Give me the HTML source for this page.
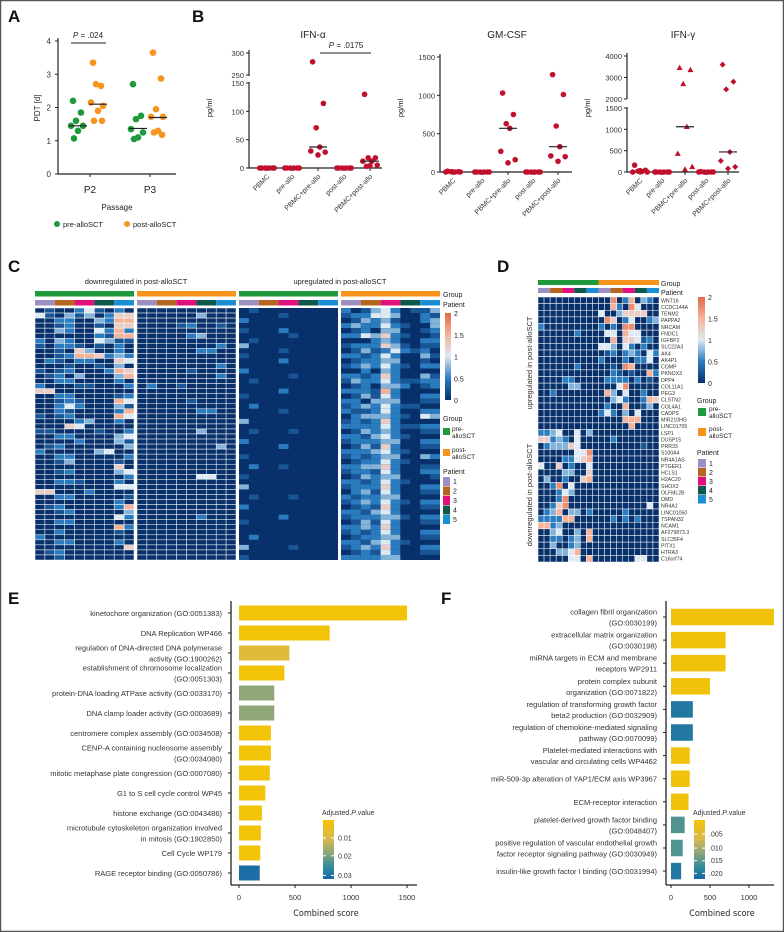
<!DOCTYPE html>
<html><head><meta charset="utf-8"><style>
body{margin:0;background:#fff}
svg{display:block;font-family:"Liberation Sans",sans-serif}
</style></head><body>
<svg id="fig" width="784" height="932" viewBox="0 0 784 932" xmlns="http://www.w3.org/2000/svg">
<rect x="0.5" y="0.5" width="783" height="931" fill="#fff" stroke="#555" stroke-width="1.5"/>
<g id="g"></g>
</svg>
<script>
// ---------- DATA ----------
// Panel A
const aCats=["P2","P3"];
const aPre=[[2.2,1.85,1.6,1.45,1.45,1.3,1.07],[2.7,1.75,1.65,1.35,1.25,1.1,1.05]];
const aPost=[[3.35,2.65,2.7,2.15,2.05,1.9,1.6,1.6],[3.65,2.87,1.95,1.72,1.72,1.3,1.25,1.18]];
const aPreMed=[1.45,1.37];
const aPostMed=[2.1,1.7];
const aTicks=[0,1,2,3,4];
// Panel B
const bCats=["PBMC","pre-allo","PBMC+pre-allo","post-allo","PBMC+post-allo"];
const ifnA=[[0,0,0,0,0,0],[0,0,0,0,0,0],[280,114,71,37,30,28,23],[0,0,0,0,0,0],[130,18,18,12,12,5,4,3]];
const ifnAMed=[0,0,37,0,12];
const gmcsf=[[10,5,5,0,0,0,0],[0,0,0,0,0,0],[1030,750,630,570,270,160,120],[0,0,0,0,0,0],[1270,1010,600,330,210,200,140]];
const gmMed=[0,0,570,0,330];
const ifnG=[[160,40,20,10,0,0,30],[0,0,0,0,0,0],[3450,3350,2700,1060,430,120,60],[10,0,0,0,0,0],[3600,2800,2450,470,260,120,80]];
const ifnGMed=[0,0,1060,0,470];
// Panel C heatmap (digit d -> value d*0.25)
const cRows=[
"0100241020000000000001000000002013420113","4103130255000000300000001000001224430021",
"0022003266000000000020000000000132310023","0012001055000012001000000000002322421003",
"0032004262000000000010002000000120330012","0000002166000002300000000100002243521001",
"2032004311000000000001000000000002320022","1022101020000000002030000000001222531011",
"0010530020000000220000001000000131242120","0012665232000000000010000000002212420031",
"0210220054000000000000002000000122330010","0001001030000000002000000000001232421022",
"1012000265000001000020000000000020320000","0120300036000000002000000100002212520031",
"0022000020000000000001000000001322421122","2000110002020010000000000000000120332012",
"5500000000000000000000002000002221620000","0022000012000000000010000000000131420022",
"0012100064000001000000000000002203330011","0024200031000000000002000000001232421100",
"0021000026000000220000001000002112420022","1012000064000000000000000000000233321043",
"0000230020000000000030000000001212520000","0005400000000000000000000000002222421122",
"1100001002000000300001000100000132320011","0022000034000000000000000000002213421000",
"0000200031000000000020000000001222330022","0120000003000000003000002000000131520011",
"2000003400000000000000000000002223421000","0022000002000000000010000000001212330032",
"0013000010000000000000000000000122421000","0000000050000000000002001000002233520011",
"0012000034000000000000000000001221420022","0000000002000000440010000000000132330001",
"0022100020000000000000000000002212421000","0000000044000000000030000000001222520022",
"5500020000000000000000000000000231420011","0022000001000000000001000100002122330000",
"0000000020000000000000000000001232421022","0120000026000000000020000000000121520011",
"0012000003000000000000000000002213420000","0000000042000000200000002000001222331022",
"0022000000000000000010000000000131420011","0000000062000000000000000000002232520000",
"0020000010000000000000000000001212420022","2000000000000000000002000000000122330011",
"0022000020000000000000000000002213421000","0000000005000000000030000100001232520022",
"0120000000000000000000000000000121420011","0010000000000000000010000000002222330000"];
// Panel D heatmap
const dGenes=["WNT16","CCDC144A","TENM2","PAPPA2","NRCAM","FNDC1","IGFBP2","SLC22A3","AK4","AK4P1","COMP","PKNOX3","DPP4","COL11A1","PEG3","CLSTN2","COL4A1","CADPS","MIR210HG","LINC01705","LSP1","DUSP15","PRR33","S100A4","NR4A1AS","PTGER1","HCLS1","H2AC20","SHOX2","OLFML2B","OMD","NR4A1","LINC01050","TSPAN32","NCAM1","AF279873.3","SLC35F4","PITX1","HTRA3","C16orf74"];
const dRows=["00000000000070260320","00000000000062074000","00000000004003555500","00000000000750240023","20000000002020770000","00000020000440644000","00000000000060554120","00000000004430420200","00000000000120232042","00000000002000202240","00000020000010760000","00000000000021010062","00002200000222202010","00000330000004700000","00200000000630400200","00000000000034200265","00000000000200600130","00000000002420304000","00000000000000666000","00000000000000060000","22340040300000000000","55232040000020000000","02333540000000000100","00000044700000000000","00002245600000000000","40050200400000000000","00003300500000000000","03002005600000000000","00270400000000000000","00024300000000000000","00027000000000000000","00257000000000000040","02360330200000200000","22226600000020202000","66230000000000000000","00340030600000000000","00220230600000000000","00300230000000000000","00033460000000000000","00000440600000004400"];
// Panel E
const eTerms=[["kinetochore organization (GO:0051383)"],["DNA Replication WP466"],["regulation of DNA-directed DNA polymerase","activity (GO:1900262)"],["establishment of chromosome localization","(GO:0051303)"],["protein-DNA loading ATPase activity (GO:0033170)"],["DNA clamp loader activity (GO:0003689)"],["centromere complex assembly (GO:0034508)"],["CENP-A containing nucleosome assembly","(GO:0034080)"],["mitotic metaphase plate congression (GO:0007080)"],["G1 to S cell cycle control WP45"],["histone exchange (GO:0043486)"],["microtubule cytoskeleton organization involved","in mitosis (GO:1902850)"],["Cell Cycle WP179"],["RAGE receptor binding (GO:0050786)"]];
const eScores=[1500,810,450,405,315,315,285,285,275,235,205,195,190,185];
const ePadj=[0.001,0.001,0.008,0.001,0.018,0.018,0.001,0.001,0.001,0.001,0.001,0.001,0.001,0.032];
const eTicks=[0,500,1000,1500];
// Panel F
const fTerms=[["collagen fibril organization","(GO:0030199)"],["extracellular matrix organization","(GO:0030198)"],["miRNA targets in ECM and membrane","receptors WP2911"],["protein complex subunit","organization (GO:0071822)"],["regulation of transforming growth factor","beta2 production (GO:0032909)"],["regulation of chemokine-mediated signaling","pathway (GO:0070099)"],["Platelet-mediated interactions with","vascular and circulating cells WP4462"],["miR-509-3p alteration of YAP1/ECM axis WP3967"],["ECM-receptor interaction"],["platelet-derived growth factor binding","(GO:0048407)"],["positive regulation of vascular endothelial growth","factor receptor signaling pathway (GO:0030949)"],["insulin-like growth factor I binding (GO:0031994)"]];
const fScores=[1320,700,700,500,280,280,240,240,225,175,150,130];
const fPadj=[0.001,0.001,0.001,0.001,0.019,0.019,0.001,0.001,0.001,0.015,0.015,0.019];
const fTicks=[0,500,1000];

// ---------- HELPERS ----------
const NS="http://www.w3.org/2000/svg";
const root=document.getElementById('g');
function mk(tag,attrs,parent,txt){const e=document.createElementNS(NS,tag);for(const k in attrs)e.setAttribute(k,attrs[k]);if(txt!==undefined)e.textContent=txt;(parent||root).appendChild(e);return e;}
function grp(name){const g=mk('g',{});


return g;}
const GREEN="#1e9a3c",ORANGE="#f7941d",RED="#c0102e";
const PCOL=["#9d8ec4","#b5651d","#e0117f","#0e5a4a","#1b8fd6"];
function hx(h){return [parseInt(h.slice(1,3),16),parseInt(h.slice(3,5),16),parseInt(h.slice(5,7),16)];}
function lerpC(stops,t){t=Math.max(0,Math.min(1,t));for(let i=0;i<stops.length-1;i++){const [a,ca]=stops[i],[b,cb]=stops[i+1];if(t<=b){const f=(t-a)/(b-a);const x=hx(ca),y=hx(cb);return `rgb(${x.map((v,j)=>Math.round(v+(y[j]-v)*f)).join(',')})`;}}return stops[stops.length-1][1];}
const heatStops=[[0,"#08306b"],[0.25,"#2a7cbf"],[0.5,"#dde9f3"],[0.75,"#f5b39a"],[1,"#e5674a"]];
function heatCol(v){return lerpC(heatStops,v/2);}
const padjStopsE=[[0,"#f5c400"],[0.33,"#d6b84e"],[0.55,"#8fa77a"],[0.8,"#2f8a9a"],[1,"#1768a8"]];

// ---------- PANEL LABELS ----------
[["A",8,22],["B",192,22],["C",8,272],["D",497,272],["E",8,604],["F",441,604]].forEach(([t,x,y])=>{
 const e=mk('text',{x:x,y:y,'font-size':17,'font-weight':'bold',fill:'#111'},root,t);
 
 
});

// ---------- PANEL A ----------
(function(){
 const g=grp('panel-a-dotplot');
 const x0=58,x1=176,y0=174,ppu=33.25;
 const y=v=>y0-v*ppu;
 const cx=[90,150];
 mk('line',{x1:x0,y1:y(4)-3,x2:x0,y2:y0,stroke:'#222','stroke-width':1.2},g);
 mk('line',{x1:x0,y1:y0,x2:x1,y2:y0,stroke:'#222','stroke-width':1.2},g);
 aTicks.forEach(t=>{mk('line',{x1:x0-3,y1:y(t),x2:x0,y2:y(t),stroke:'#222'},g);
  const e=mk('text',{x:x0-7,y:y(t)+3,'font-size':8,'text-anchor':'end',fill:'#333'},g,t);
  
  });
 aCats.forEach((c,i)=>{mk('line',{x1:cx[i],y1:y0,x2:cx[i],y2:y0+3,stroke:'#222'},g);
  const e=mk('text',{x:cx[i],y:y0+19,'font-size':10,'text-anchor':'middle',fill:'#222'},g,c);
  
  });
 const xl=mk('text',{x:117,y:210,'font-size':8,'text-anchor':'middle',fill:'#222'},g,'Passage');
 
 
 const yl=mk('text',{x:0,y:0,'font-size':8,'text-anchor':'middle',fill:'#222',transform:'translate(40,108) rotate(-90)'},g,'PDT [d]');
 
 
 const jit=[-5,3,-2,-7,5,0,-4,4];
 aCats.forEach((c,i)=>{
  [[aPre[i],GREEN,-12,aPreMed[i]],[aPost[i],ORANGE,8,aPostMed[i]]].forEach(([vals,col,off,med])=>{
   vals.forEach((v,k)=>{const d=mk('circle',{cx:cx[i]+off+jit[k%8],cy:y(v),r:3.3,fill:col},g);
    
    });
   const m=mk('line',{x1:cx[i]+off-9,x2:cx[i]+off+9,y1:y(med),y2:y(med),stroke:'#222','stroke-width':1.2},g);
   
   
  });
 });
 mk('line',{x1:71,x2:106,y1:43,y2:43,stroke:'#222'},g);
 const p=mk('text',{x:88,y:38,'font-size':8,'text-anchor':'middle',fill:'#222'},g);
 p.innerHTML='<tspan font-style="italic">P</tspan> = .024';
 
 
 // legend
 [[57,GREEN,'pre-alloSCT','legend-pre-allosct'],[127,ORANGE,'post-alloSCT','legend-post-allosct']].forEach(([x,c,t,n])=>{
  const lg=mk('g',{},g);
  
  
  mk('circle',{cx:x,cy:224,r:3,fill:c},lg);
  mk('text',{x:x+6,y:227,'font-size':7.5,fill:'#222'},lg,t);
 });
})();

// ---------- PANEL B ----------
function bPanel(name,title,data,med,opts){
 const g=grp(name);
 const {ax,ax1,yb,y,ticks,cx,breakY,titleX,shape}=opts;
 const t=mk('text',{x:titleX,y:38,'font-size':10,'text-anchor':'middle',fill:'#222'},g,title);
 
 
 if(breakY){mk('line',{x1:ax,x2:ax,y1:breakY[0],y2:breakY[1],stroke:'#222','stroke-width':1.2},g);
  mk('line',{x1:ax,x2:ax,y1:breakY[2],y2:yb,stroke:'#222','stroke-width':1.2},g);}
 else mk('line',{x1:ax,x2:ax,y1:y(ticks[ticks.length-1])-3,y2:yb,stroke:'#222','stroke-width':1.2},g);
 mk('line',{x1:ax,x2:ax1,y1:yb,y2:yb,stroke:'#222','stroke-width':1.2},g);
 ticks.forEach(tk=>{mk('line',{x1:ax-3,x2:ax,y1:y(tk),y2:y(tk),stroke:'#222'},g);
  const e=mk('text',{x:ax-5,y:y(tk)+3,'font-size':7.5,'text-anchor':'end',fill:'#333'},g,tk);
  
  });
 const yl=mk('text',{x:0,y:0,'font-size':7.5,'text-anchor':'middle',fill:'#222',transform:`translate(${ax-37},108) rotate(-90)`},g,'pg/ml');
 
 
 const jit=[-6,6,-2,2,-8,8,0,-4];
 bCats.forEach((c,i)=>{
  mk('line',{x1:cx[i],x2:cx[i],y1:yb,y2:yb+3,stroke:'#222'},g);
  const lb=mk('text',{x:0,y:0,'font-size':7,'text-anchor':'end',fill:'#333',transform:`translate(${cx[i]+3},${yb+9}) rotate(-45)`},g,c);
  
  
  data[i].forEach((v,k)=>{
   const px=cx[i]+jit[k%8]*0.9,py=y(v);let m;
   if(shape&&i===2)m=mk('path',{d:`M${px},${py-3.2}L${px+3},${py+2.2}L${px-3},${py+2.2}Z`,fill:RED},g);
   else if(shape&&i===4)m=mk('path',{d:`M${px},${py-3}L${px+3},${py}L${px},${py+3}L${px-3},${py}Z`,fill:RED},g);
   else m=mk('circle',{cx:px,cy:py,r:2.8,fill:RED},g);
   
   
  });
  if(med[i]>0){const l=mk('line',{x1:cx[i]-9,x2:cx[i]+9,y1:y(med[i]),y2:y(med[i]),stroke:'#222','stroke-width':1.2},g);
   
   }
 });
 return g;
}
const gA=bPanel('ifn-alpha-chart','IFN-α',ifnA,ifnAMed,{ax:249,ax1:382,yb:168,
 y:v=>v<=150?168-v*(85/150):75-(v-250)*(22/50),ticks:[0,50,100,150,250,300],cx:[267,292,318,344,370],breakY:[50,76,82],titleX:313});
mk('line',{x1:320,x2:371,y1:53,y2:53,stroke:'#222'},gA);
const pA=mk('text',{x:346,y:48,'font-size':8,'text-anchor':'middle',fill:'#222'},gA);
pA.innerHTML='<tspan font-style="italic">P</tspan> = .0175';


bPanel('gm-csf-chart','GM-CSF',gmcsf,gmMed,{ax:440,ax1:572,yb:172,
 y:v=>172-v*(115/1500),ticks:[0,500,1000,1500],cx:[453,482,508,533,558],titleX:507});
bPanel('ifn-gamma-chart','IFN-γ',ifnG,ifnGMed,{ax:627,ax1:739,yb:172,
 y:v=>v<=1500?172-v*(64/1500):99-(v-2000)*(43/2000),ticks:[0,500,1000,1500,2000,3000,4000],cx:[640,662,685,706,728],breakY:[53,99,107],titleX:683,shape:true});

// ---------- PANEL C ----------
(function(){
 const g=grp('panel-c-heatmap');
 const blocks=[35,137,239,341],bw=99,top=308,bot=560,nr=cRows.length,rh=(bot-top)/nr,cw=bw/10;
 [["downregulated in post-alloSCT",136],["upregulated in post-alloSCT",340]].forEach(([t,x])=>{
  const e=mk('text',{x:x,y:284,'font-size':7.5,'text-anchor':'middle',fill:'#222'},g,t);
  
  });
 blocks.forEach((bx,b)=>{
  const ga=mk('rect',{x:bx,y:291,width:bw,height:5.5,fill:b%2===0?GREEN:ORANGE},g);
  
  
  for(let p=0;p<5;p++){const pa=mk('rect',{x:bx+p*bw/5,y:300,width:bw/5,height:5.5,fill:PCOL[p]},g);
   
   }
  mk('rect',{x:bx,y:top,width:bw,height:bot-top,fill:'#08306b'},g);
  for(let r=0;r<nr;r++)for(let c=0;c<10;c++){
   const v=parseInt(cRows[r][b*10+c])*0.25;
   const cell=mk('rect',{x:bx+c*cw,y:top+r*rh,width:cw,height:rh,fill:heatCol(v),stroke:b<2?'#fff':'none','stroke-width':0.5},g);
   
   
  }
 });
 [["Group",297],["Patient",307]].forEach(([t,y])=>mk('text',{x:443,y:y,'font-size':7,fill:'#222'},g,t));
 legendBar(g,445,313,6,87,'c');
 mk('text',{x:443,y:421,'font-size':7,fill:'#222'},g,'Group');
 [[GREEN,428,'pre-','alloSCT'],[ORANGE,449,'post-','alloSCT']].forEach(([c,y,a,b2])=>{
  mk('rect',{x:443,y:y,width:7,height:7,fill:c},g);
  mk('text',{x:452,y:y+3,'font-size':6.5,fill:'#222'},g,a);
  mk('text',{x:452,y:y+10,'font-size':6.5,fill:'#222'},g,b2);});
 mk('text',{x:443,y:474,'font-size':7,fill:'#222'},g,'Patient');
 PCOL.forEach((c,i)=>{mk('rect',{x:443,y:477+i*9.5,width:7,height:9,fill:c},g);
  mk('text',{x:453,y:484+i*9.5,'font-size':7,fill:'#222'},g,i+1);});
})();
function legendBar(g,x,y,w,h,p){
 const id='hg'+p;
 const lg=mk('linearGradient',{id:id,x1:0,y1:1,x2:0,y2:0},g);
 heatStops.forEach(([o,c])=>mk('stop',{offset:o,'stop-color':c},lg));
 const r=mk('rect',{x:x,y:y,width:w,height:h,fill:`url(#${id})`},g);
 
 
 ["2","1.5","1","0.5","0"].forEach((t,i)=>mk('text',{x:x+w+3,y:y+3+i*h/4,'font-size':7,fill:'#222'},g,t));
}

// ---------- PANEL D ----------
(function(){
 const g=grp('panel-d-heatmap');
 const x0=538,w=121,top=297,bot=562,nr=dRows.length,rh=(bot-top)/nr,cw=w/20;
 let e=mk('rect',{x:x0,y:280,width:w/2,height:5,fill:GREEN},g);
 
 
 e=mk('rect',{x:x0+w/2,y:280,width:w/2,height:5,fill:ORANGE},g);
 
 
 for(let i=0;i<10;i++){const pa=mk('rect',{x:x0+i*w/10,y:288,width:w/10,height:5,fill:PCOL[i%5]},g);
  
  }
 mk('text',{x:661,y:286,'font-size':7,fill:'#222'},g,'Group');
 mk('text',{x:661,y:295,'font-size':7,fill:'#222'},g,'Patient');
 for(let r=0;r<nr;r++){
  for(let c=0;c<20;c++){
   const v=parseInt(dRows[r][c])*0.25;
   const cell=mk('rect',{x:x0+c*cw,y:top+r*rh,width:cw,height:rh,fill:heatCol(v),stroke:'#fff','stroke-width':0.5},g);
   
   
  }
  const gl=mk('text',{x:661,y:top+r*rh+rh-1.3,'font-size':5.2,fill:'#333'},g,dGenes[r]);
  
  
 }
 [["upregulated in post-alloSCT",363],["downregulated in post-alloSCT",495]].forEach(([t,y])=>{
  const e2=mk('text',{x:0,y:0,'font-size':7.5,'text-anchor':'middle',fill:'#333',transform:`translate(532,${y}) rotate(-90)`},g,t);
  
  });
 legendBar(g,698,297,7,86,'d');
 mk('text',{x:697,y:403,'font-size':7,fill:'#222'},g,'Group');
 [[GREEN,408,'pre-','alloSCT'],[ORANGE,428,'post-','alloSCT']].forEach(([c,y,a,b2])=>{
  mk('rect',{x:698,y:y,width:8,height:8,fill:c},g);
  mk('text',{x:709,y:y+3,'font-size':6.5,fill:'#222'},g,a);
  mk('text',{x:709,y:y+10,'font-size':6.5,fill:'#222'},g,b2);});
 mk('text',{x:697,y:455,'font-size':7,fill:'#222'},g,'Patient');
 PCOL.forEach((c,i)=>{mk('rect',{x:698,y:459+i*9,width:8,height:8.5,fill:c},g);
  mk('text',{x:709,y:466+i*9,'font-size':7,fill:'#222'},g,i+1);});
})();

// ---------- PANELS E & F ----------
function barPanel(name,terms,scores,padj,ticks,o){
 const g=grp(name);
 const {ax,x0,ppu,yTop,yBot,first,step,bh,labX,pmax,legX,legLabels,xEnd}=o;
 const x=v=>x0+v*ppu;
 mk('line',{x1:ax,x2:ax,y1:yTop,y2:yBot,stroke:'#222','stroke-width':1.3},g);
 mk('line',{x1:ax,x2:xEnd,y1:yBot,y2:yBot,stroke:'#222','stroke-width':1.3},g);
 ticks.forEach(t=>{mk('line',{x1:x(t),x2:x(t),y1:yBot,y2:yBot+3,stroke:'#222'},g);
  const e=mk('text',{x:x(t),y:yBot+15,'font-size':7.5,'text-anchor':'middle',fill:'#333'},g,t);
  
  });
 const xt=mk('text',{x:(ax+xEnd)/2+2,y:yBot+31,'font-size':9,'text-anchor':'middle',fill:'#222','font-family':'"DejaVu Sans Condensed","Liberation Sans Narrow",sans-serif',transform:''},g,'Combined score');
 
 
 terms.forEach((t,i)=>{
  const cy=first+i*step;
  const b=mk('rect',{x:x0,y:cy-bh/2,width:scores[i]*ppu,height:bh,fill:lerpC(padjStopsE,padj[i]/pmax)},g);
  
  
  mk('line',{x1:ax-3,x2:ax,y1:cy,y2:cy,stroke:'#222'},g);
  const n=t.length;
  t.forEach((line,k)=>{
   const e=mk('text',{x:labX,y:cy+3-(n-1)*5.5+k*11,'font-size':7.5,'text-anchor':'end',fill:'#333'},g,line);
   
   
  });
 });
 // legend
 const id='pg'+name;
 const lg=mk('linearGradient',{id:id,x1:0,y1:0,x2:0,y2:1},g);
 padjStopsE.forEach(([oo,c])=>mk('stop',{offset:oo,'stop-color':c},lg));
 const lt=mk('text',{x:legX-1,y:815,'font-size':7,fill:'#333'},g);
 lt.innerHTML='Adjusted.<tspan font-style="italic">P</tspan>.value';
 
 
 const r=mk('rect',{x:legX,y:820,width:11,height:59,fill:`url(#${id})`},g);
 
 
 legLabels.forEach(([t,v])=>{const yy=820+59*v/pmax;
  mk('line',{x1:legX,x2:legX+3,y1:yy,y2:yy,stroke:'#fff'},g);
  mk('line',{x1:legX+8,x2:legX+11,y1:yy,y2:yy,stroke:'#fff'},g);
  mk('text',{x:legX+15,y:yy+2.5,'font-size':7,fill:'#333'},g,t);});
}
barPanel('panel-e-enrichment',eTerms,eScores,ePadj,eTicks,{ax:231,x0:239,ppu:168/1500,yTop:601,yBot:885,first:613,step:20,bh:15,labX:222,pmax:0.033,legX:323,legLabels:[[".01".replace(/^/,"0"),0.01],["0.02",0.02],["0.03",0.031]],xEnd:417});
barPanel('panel-f-enrichment',fTerms,fScores,fPadj,fTicks,{ax:666,x0:671,ppu:78/1000,yTop:601,yBot:885,first:617,step:23.1,bh:16.5,labX:657,pmax:0.021,legX:694,legLabels:[[".005",0.005],[".010",0.01],[".015",0.0145],[".020",0.019]],xEnd:774});
</script>
</body></html>
